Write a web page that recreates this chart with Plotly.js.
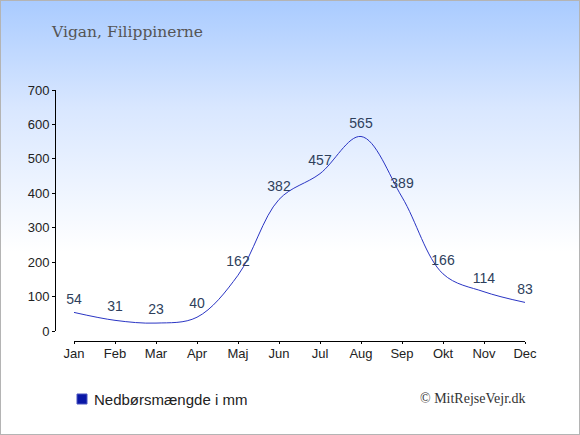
<!DOCTYPE html>
<html>
<head>
<meta charset="utf-8">
<script src="https://cdn.plot.ly/plotly-3.0.1.min.js"></script>
<style>
html,body{margin:0;padding:0;}
#wrap{position:relative;width:580px;height:435px;background:linear-gradient(to bottom,#a9cbff 0%,#d9e7ff 25%,#ffffff 58%,#ffffff 100%);}
#chart{width:580px;height:435px;}
#frame{position:absolute;left:0;top:0;width:580px;height:435px;box-sizing:border-box;border:1px solid #b4b4b4;pointer-events:none;}
</style>
</head>
<body>
<div id="wrap"><div id="chart"></div><div id="frame"></div></div>
<script>
const months = ["Jan","Feb","Mar","Apr","Maj","Jun","Jul","Aug","Sep","Okt","Nov","Dec"];
const rainfall = [54,31,23,40,162,382,457,565,389,166,114,83];
const yTicks = [0,100,200,300,400,500,600,700];
const chartTitle = "Vigan, Filippinerne";
const seriesName = "Nedbørsmængde i mm";
const credit = "© MitRejseVejr.dk";

const W = 580, H = 435;
const px = v => v / W;
const py = v => (H - v) / H;

const traces = [
  {
    x: months, y: rainfall, type: "scatter", mode: "lines+markers+text",
    name: seriesName,
    text: rainfall.map(String), textposition: "top center",
    textfont: {family: "Liberation Sans, Arial, sans-serif", size: 14, color: "#2e3f5c"},
    line: {color: "#2a35c4", width: 1, shape: "spline", smoothing: 1},
    marker: {size: 7, color: "rgba(0,0,0,0)"},
    showlegend: false, hoverinfo: "skip", cliponaxis: false
  }
];

const layout = {
  width: W, height: H,
  margin: {l: 0, r: 0, t: 0, b: 0},
  paper_bgcolor: "rgba(0,0,0,0)", plot_bgcolor: "rgba(0,0,0,0)",
  font: {family: "Liberation Sans, Arial, sans-serif", size: 13, color: "#222"},
  xaxis: {
    type: "category", domain: [px(74), px(525)], range: [0, 11],
    anchor: "free", position: py(341),
    showline: true, linecolor: "#000", linewidth: 1,
    ticks: "outside", ticklen: 2, tickcolor: "#000", showgrid: false, zeroline: false,
    ticklabelstandoff: -2,
    tickfont: {size: 13, color: "#222"}, fixedrange: true
  },
  yaxis: {
    domain: [py(331), py(90)], range: [0, 700],
    tickvals: yTicks, ticktext: yTicks.map(String),
    anchor: "free", position: px(55),
    showline: true, linecolor: "#000", linewidth: 1,
    ticks: "outside", ticklen: 3, tickcolor: "#000", showgrid: false, zeroline: false,
    tickfont: {size: 13, color: "#222"}, fixedrange: true
  },
  showlegend: false,
  shapes: [
    {type: "rect", xref: "paper", yref: "paper", x0: px(77), x1: px(87), y0: py(404), y1: py(394),
     fillcolor: "#0a17a6", line: {color: "#4a55c0", width: 1}}
  ],
  annotations: [
    {text: chartTitle, xref: "paper", yref: "paper", x: px(49), y: py(32), xanchor: "left", yanchor: "middle",
     showarrow: false, font: {family: "DejaVu Serif, serif", size: 15.5, color: "#555"}},
    {text: seriesName, xref: "paper", yref: "paper", x: px(92), y: py(399), xanchor: "left", yanchor: "middle",
     showarrow: false, font: {family: "Liberation Sans, Arial, sans-serif", size: 15, color: "#222"}},
    {text: credit, xref: "paper", yref: "paper", x: px(528), y: py(398), xanchor: "right", yanchor: "middle",
     showarrow: false, font: {family: "Liberation Serif, Times New Roman, serif", size: 14, color: "#333"}}
  ]
};

Plotly.newPlot("chart", traces, layout, {displayModeBar: false, staticPlot: true});
</script>
</body>
</html>
